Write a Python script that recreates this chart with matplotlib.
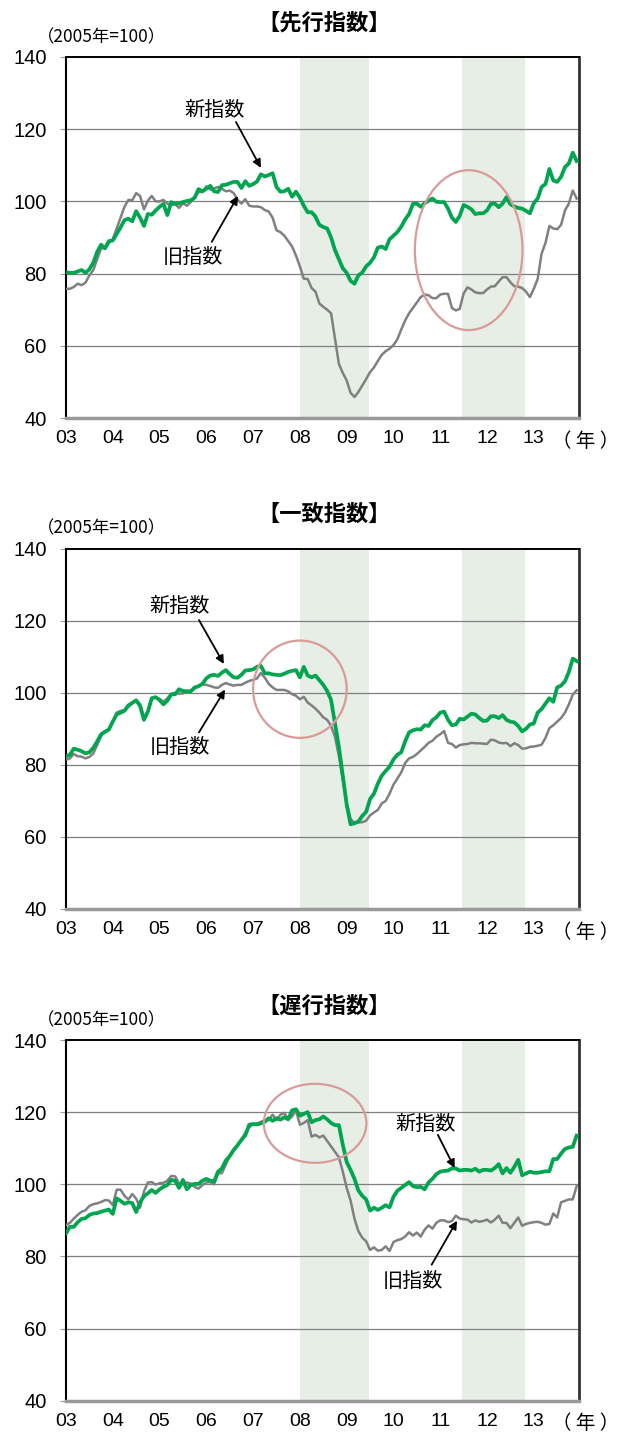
import numpy as np
import matplotlib
matplotlib.use('Agg')
import matplotlib.pyplot as plt
from matplotlib.patches import Ellipse

plt.rcParams['font.family'] = ['Liberation Sans', 'Noto Sans CJK JP']

# 月次データ（2003年1月〜2013年12月）
years = ['03', '04', '05', '06', '07', '08', '09', '10', '11', '12', '13']

lead_new = [
    80.4, 80.2, 80.2, 80.6, 81.0, 80.2, 81.2, 83.0, 86.0, 88.0, 87.0, 89.0,
    89.2, 91.0, 92.8, 94.8, 95.2, 94.5, 97.3, 95.5, 93.2, 96.5, 96.3, 97.5,
    98.5, 99.3, 96.2, 99.8, 99.3, 99.5, 99.8, 100.1, 100.3, 101.0, 103.4, 102.8,
    103.5, 104.3, 102.8, 102.6, 104.5, 104.6, 105.0, 105.4, 105.4, 103.7, 105.6, 104.3,
    104.8, 105.5, 107.5, 106.9, 107.3, 107.8, 104.0, 102.7, 102.8, 103.5, 101.3, 102.7,
    101.0, 98.8, 97.0, 97.0, 95.8, 93.5, 92.9, 92.5, 90.0, 86.5, 84.0, 81.5,
    80.2, 78.0, 77.2, 79.5, 80.3, 82.0, 83.0, 84.5, 87.2, 87.5, 86.8, 89.5,
    90.5, 91.5, 93.0, 95.0, 96.5, 99.3, 99.4, 98.5, 99.5, 100.2, 100.8, 99.9,
    99.8, 99.8, 98.0, 95.5, 94.3, 96.0, 99.0, 98.5, 97.8, 96.5, 96.7, 96.7,
    97.5, 99.3, 99.4, 98.4, 99.4, 101.2, 99.2, 98.6, 98.2, 98.0, 97.4, 96.7,
    99.5, 100.8, 104.0, 104.8, 109.0, 105.8, 105.4, 106.8, 109.5, 110.5, 113.5, 111.2,
]
lead_old = [
    75.8, 75.8, 76.3, 77.2, 76.8, 77.5, 79.5, 81.0, 84.0, 87.0, 87.0, 88.5,
    89.5, 92.5, 95.5, 98.5, 100.4, 100.3, 102.3, 101.5, 97.8, 100.2, 101.5, 100.0,
    100.0, 100.4, 99.4, 99.0, 99.3, 98.2, 99.5, 98.8, 99.8, 101.2, 102.6, 102.6,
    104.2, 103.3, 103.6, 104.0, 103.5, 102.8, 103.0, 102.3, 100.5, 99.4, 100.6, 98.8,
    98.6, 98.6, 98.4, 97.6, 97.2, 95.5, 92.0, 91.5, 90.5, 89.0, 87.5, 85.0,
    82.0, 78.6, 78.5, 76.0, 75.0, 71.7, 70.8, 70.0, 69.0, 62.0, 55.0, 52.5,
    50.4, 47.0, 45.8, 47.2, 49.0, 50.8, 52.7, 54.0, 55.8, 57.5, 58.5, 59.2,
    60.2, 61.8, 64.5, 67.0, 69.0, 70.5, 72.0, 73.5, 74.2, 74.0, 73.2, 73.2,
    74.2, 74.4, 74.4, 70.5, 69.8, 70.2, 74.5, 76.2, 75.6, 74.8, 74.6, 74.6,
    75.6, 76.4, 76.5, 77.8, 79.0, 79.0, 77.6, 76.5, 76.4, 76.0, 75.0, 73.5,
    75.8, 78.5, 85.5, 88.5, 93.2, 92.5, 92.3, 93.5, 97.5, 99.4, 103.0, 100.8,
]

coin_new = [
    82.4, 82.8, 84.5, 84.2, 83.8, 83.2, 83.5, 84.7, 86.5, 88.5, 89.2, 89.8,
    92.0, 94.0, 94.5, 95.0, 96.5, 97.2, 97.9, 96.4, 92.5, 94.8, 98.5, 98.8,
    98.0, 96.8, 97.8, 99.6, 99.6, 101.0, 100.5, 100.4, 100.4, 101.5, 101.8, 102.5,
    104.0, 104.8, 105.0, 104.7, 105.6, 106.3, 105.2, 104.3, 104.2, 105.0, 106.2, 106.3,
    106.5, 107.2, 107.5, 105.4, 105.4, 105.1, 105.0, 104.9, 105.3, 105.8, 106.1, 106.3,
    104.3, 107.2, 104.8, 104.3, 104.8, 103.5, 102.2, 100.5, 98.0, 91.5, 85.0, 77.0,
    69.0, 63.5, 63.8, 64.3, 65.8, 67.0, 70.5, 72.0, 74.8, 77.0, 78.3, 79.5,
    81.5, 82.8, 83.5, 86.5, 89.0, 89.6, 89.9, 89.8, 91.0, 90.8, 92.4, 93.2,
    94.5, 94.8, 92.5, 91.0, 91.2, 92.8, 92.6, 93.4, 94.2, 94.0, 93.0, 92.2,
    92.3, 93.5, 93.5, 93.0, 93.8, 92.5, 92.0, 91.8, 90.8, 89.3, 90.0, 91.2,
    91.5, 94.5, 95.5, 97.0, 98.5, 97.5, 101.5, 102.0, 103.2, 105.8, 109.5, 108.8,
]
coin_old = [
    81.5, 81.8, 83.0, 82.4, 82.3, 81.8, 82.2, 83.2, 85.5, 88.0, 89.2, 89.9,
    92.0, 94.5, 95.0, 95.2, 96.1, 97.2, 98.0, 96.8, 93.0, 94.8, 98.5, 98.8,
    98.3, 97.5, 98.5, 99.5, 100.0, 99.8, 99.8, 100.6, 100.4, 101.2, 102.0, 102.3,
    102.2, 101.9, 101.5, 101.4, 102.2, 102.7, 102.3, 102.0, 102.2, 102.2, 102.8, 103.3,
    103.6, 104.0, 105.5, 104.2, 102.5, 101.5, 100.8, 100.8, 100.8, 100.4, 99.6, 99.2,
    98.2, 98.9, 97.3, 96.5, 95.6, 94.5, 93.2, 92.5, 90.8, 87.8, 82.5, 76.0,
    69.5, 65.0, 63.8, 64.0, 64.1, 64.5, 66.0, 66.8, 67.5, 69.3, 70.0, 72.0,
    74.5, 76.2, 77.9, 80.5, 81.8, 82.2, 83.0, 84.0, 85.0, 86.1, 86.7, 87.8,
    88.5, 89.4, 86.1, 85.8, 84.8, 85.5, 85.7, 85.8, 86.1, 86.0, 86.0, 85.9,
    85.8, 87.0, 86.8, 86.2, 86.0, 86.1, 85.2, 86.0, 85.5, 84.5, 84.6, 85.0,
    85.1, 85.3, 85.6, 87.5, 90.2, 91.0, 92.0, 93.0, 94.5, 96.8, 99.5, 100.7,
]

lag_new = [
    86.4, 88.2, 88.2, 89.5, 90.4, 90.6, 91.5, 91.9, 92.0, 92.4, 92.7, 93.0,
    91.8, 96.1, 95.4, 94.6, 95.0, 94.8, 92.3, 95.0, 96.7, 97.5, 98.4, 97.6,
    98.6, 99.3, 99.8, 101.2, 101.0, 99.0, 101.2, 98.6, 99.8, 100.1, 100.1, 101.0,
    101.5, 101.0, 100.8, 103.5, 104.4, 106.6, 107.8, 109.5, 110.8, 112.3, 113.6, 116.5,
    116.7, 116.6, 116.9, 117.3, 118.3, 117.6, 118.3, 117.9, 118.6, 118.0, 120.5, 120.8,
    119.0, 119.5, 120.0, 117.2, 117.8, 118.0, 118.8, 118.0, 117.0, 116.4, 116.4, 111.0,
    106.2, 104.0, 101.5, 98.3, 96.8, 95.8, 92.7, 93.5, 92.9, 93.5, 94.2, 93.6,
    96.5, 98.2, 99.0, 99.8, 100.6, 99.5, 99.2, 99.3, 98.6, 100.5, 101.5, 102.8,
    103.5, 103.7, 103.8, 104.4, 104.4, 103.8, 104.0, 104.0, 103.8, 104.3, 103.5, 104.0,
    104.0, 103.8, 104.5, 105.6, 103.0, 104.5, 103.2, 104.8, 106.8, 102.5, 103.0, 103.5,
    103.2, 103.2, 103.4, 103.6, 103.6, 107.0, 107.0, 108.5, 109.8, 110.2, 110.4, 113.5,
]
lag_old = [
    88.7, 89.3, 90.5, 91.5, 92.4, 92.8, 94.0, 94.5, 94.7, 95.1, 95.6, 95.5,
    94.2, 98.5, 98.5, 96.8, 95.8, 97.3, 96.0, 93.5, 98.0, 100.5, 100.6, 99.9,
    100.3, 100.4, 101.0, 102.3, 102.2, 100.2, 100.0, 100.5, 100.2, 99.3, 98.8, 99.8,
    100.5, 100.6, 100.0, 103.0, 103.1, 105.5, 107.8, 109.3, 110.8, 112.3, 114.3, 115.8,
    116.7, 116.8, 117.3, 117.8, 117.8, 119.3, 117.8, 119.3, 119.8, 118.0, 118.8, 120.5,
    116.5, 117.0, 117.8, 113.2, 113.7, 113.0, 113.5, 112.0, 110.5, 109.0, 107.5, 103.5,
    99.0, 95.5, 90.5, 87.0, 85.2, 84.2, 81.8, 82.5, 81.6, 81.8, 82.8, 81.5,
    84.0, 84.5, 84.8, 85.5, 86.7, 85.8, 86.6, 85.5, 87.4, 88.6, 87.7, 89.3,
    90.0, 90.0, 89.5, 89.8, 91.3, 90.5, 90.3, 90.2, 89.4, 90.0, 89.6, 89.8,
    90.2, 89.4, 90.2, 91.3, 89.3, 89.3, 87.8, 89.3, 90.8, 88.5, 89.0, 89.3,
    89.5, 89.6, 89.3, 88.8, 89.0, 91.9, 90.8, 95.0, 95.4, 95.8, 95.8, 99.5,
]

# 景気後退期（月インデックス）
recessions = [(60, 77.7), (101.7, 117.7)]

W, H = 621, 1432
GREEN = '#00A550'
GRAY = '#808080'
JP = ['Noto Sans CJK JP', 'DejaVu Sans']

fig = plt.figure(figsize=(W / 100, H / 100), dpi=100)


def fx(px):
    return px / W


def fy(py):
    return 1 - py / H


panels = [
    dict(title='【先行指数】', new=lead_new, old=lead_old, top=57, bottom=418,
         ell=(103.3, 86.5, 27.6, 44.3),
         new_txt=(38.2, 125.3), new_arr=((43.6, 122.0), (50.0, 109.3)),
         old_txt=(32.6, 84.6), old_arr=((37.4, 88.8), (44.1, 101.5))),
    dict(title='【一致指数】', new=coin_new, old=coin_old, top=548.7, bottom=909,
         ell=(60.0, 101.0, 24.0, 27.0),
         new_txt=(29.2, 123.9), new_arr=((34.1, 120.2), (40.5, 108.0)),
         old_txt=(29.2, 84.8), old_arr=((34.1, 89.0), (40.8, 100.9))),
    dict(title='【遅行指数】', new=lag_new, old=lag_old, top=1040, bottom=1400.7,
         ell=(63.9, 116.9, 26.3, 21.9),
         new_txt=(92.3, 116.7), new_arr=((95.4, 113.7), (99.7, 104.5)),
         old_txt=(89.0, 73.0), old_arr=((93.8, 77.7), (100.3, 89.9))),
]

x = np.arange(len(lead_new))

for p in panels:
    ax = fig.add_axes([fx(66), fy(p['bottom']), fx(579) - fx(66),
                       (p['bottom'] - p['top']) / H])
    for a, b in recessions:
        ax.axvspan(a, b, color='#E6EEE6', lw=0, zorder=0)
    for v in [60, 80, 100, 120]:
        ax.axhline(v, color='#7F7F7F', lw=0.9, zorder=1)

    ax.plot(x, p['old'], color=GRAY, lw=1.8, zorder=3)
    ax.plot(x, p['new'], color=GREEN, lw=2.7, zorder=4)

    cx, cy, ew, eh = p['ell']
    ax.add_patch(Ellipse((cx, cy), ew, eh, fill=False, edgecolor='#D99A98',
                         lw=1.6, zorder=5, clip_on=False))

    ax.text(*p['new_txt'], '新指数', family=JP, fontsize=14.5,
            ha='center', va='center', zorder=6)
    ax.text(*p['old_txt'], '旧指数', family=JP, fontsize=14.5,
            ha='center', va='center', zorder=6)
    for start, tip in [p['new_arr'], p['old_arr']]:
        ax.annotate('', xy=tip, xytext=start,
                    arrowprops=dict(arrowstyle='-|>', color='black', lw=1.3,
                                    mutation_scale=12, shrinkA=0, shrinkB=0),
                    zorder=6)

    ax.set_xlim(0, 131.6)
    ax.set_ylim(40, 140)
    ax.set_yticks([40, 60, 80, 100, 120, 140])
    ax.set_xticks(np.arange(0, 132, 12))
    ax.set_xticklabels(years)
    ax.tick_params(axis='y', length=4, color='#999999', pad=10, labelsize=14.5)
    ax.tick_params(axis='x', length=0, pad=9, labelsize=14)

    ax.spines['top'].set_color('black')
    ax.spines['top'].set_linewidth(1.4)
    ax.spines['right'].set_color('#333333')
    ax.spines['right'].set_linewidth(2)
    ax.spines['bottom'].set_color('#999999')
    ax.spines['bottom'].set_linewidth(2.5)
    ax.spines['left'].set_color('black')
    ax.spines['left'].set_linewidth(1.5)
    ax.spines['left'].set_linestyle((0, (1, 1)))

    fig.text(fx(324), fy(p['top'] - 34), p['title'], family=JP,
             fontsize=16, fontweight='bold', ha='center', va='center')
    fig.text(fx(37), fy(p['top'] - 20), '（2005年=100）', family=JP,
             fontsize=12.5, ha='left', va='center')
    fig.text(fx(586), fy(p['bottom'] + 23), '（ 年 ）', family=JP,
             fontsize=14, ha='center', va='center')

fig.savefig('out.png', dpi=100)
